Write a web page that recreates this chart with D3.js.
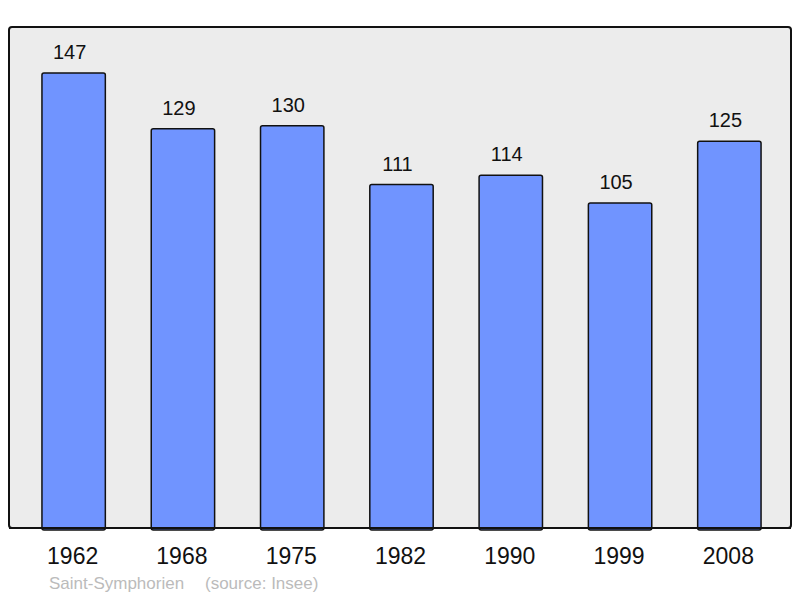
<!DOCTYPE html>
<html>
<head>
<meta charset="utf-8">
<script src="https://cdn.jsdelivr.net/npm/d3@7"></script>
<style>
  body { margin: 0; background: #fff; }
  text { font-family: "Liberation Sans", Arial, sans-serif; }
</style>
</head>
<body>
<svg id="chart" width="800" height="598"></svg>
<script>
    const years = ["1962", "1968", "1975", "1982", "1990", "1999", "2008"];
    const population = [147, 129, 130, 111, 114, 105, 125];
    const commune = "Saint-Symphorien";
    const source = "(source: Insee)";

    const svg = d3.select("#chart");
    const frame = { left: 9, top: 27, right: 791, bottom: 528 };

    // plot background
    svg.append("rect")
        .attr("x", frame.left).attr("y", frame.top)
        .attr("width", frame.right - frame.left)
        .attr("height", frame.bottom - frame.top)
        .attr("rx", 3)
        .attr("fill", "#ececec")
        .attr("stroke", "#111")
        .attr("stroke-width", 2);

    const x = d3.scaleBand()
        .domain(years)
        .range([19, 784])
        .paddingInner(0.42)
        .paddingOuter(0.21);

    const y = d3.scaleLinear()
        .domain([0, 161.9])
        .range([frame.bottom, frame.top]);

    const data = years.map((yr, i) => ({ year: yr, value: population[i] }));

    svg.append("g").selectAll("rect")
        .data(data)
        .join("rect")
        .attr("x", d => x(d.year))
        .attr("y", d => y(d.value))
        .attr("width", x.bandwidth())
        .attr("height", d => frame.bottom - y(d.value) + 2)
        .attr("rx", 2)
        .attr("fill", "#7094ff")
        .attr("stroke", "#111")
        .attr("stroke-width", 1.5);

    // redraw bottom edge of frame over bars
    svg.append("line")
        .attr("x1", frame.left).attr("x2", frame.right)
        .attr("y1", frame.bottom).attr("y2", frame.bottom)
        .attr("stroke", "#111").attr("stroke-width", 2);

    svg.append("g").selectAll("text")
        .data(data)
        .join("text")
        .attr("x", d => x(d.year) + x.bandwidth() / 2 - 4)
        .attr("y", d => y(d.value) - 14)
        .attr("text-anchor", "middle")
        .attr("font-size", 20)
        .attr("fill", "#111")
        .text(d => d.value);

    svg.append("g").selectAll("text")
        .data(years)
        .join("text")
        .attr("x", d => x(d) + x.bandwidth() / 2 - 1)
        .attr("y", 564)
        .attr("text-anchor", "middle")
        .attr("font-size", 23)
        .attr("fill", "#111")
        .text(d => d);

    svg.append("text")
        .attr("x", 49).attr("y", 589)
        .attr("font-size", 17)
        .attr("fill", "#bbb")
        .text(commune);

    svg.append("text")
        .attr("x", 205).attr("y", 589)
        .attr("font-size", 17)
        .attr("fill", "#bbb")
        .text(source);
</script>
</body>
</html>
